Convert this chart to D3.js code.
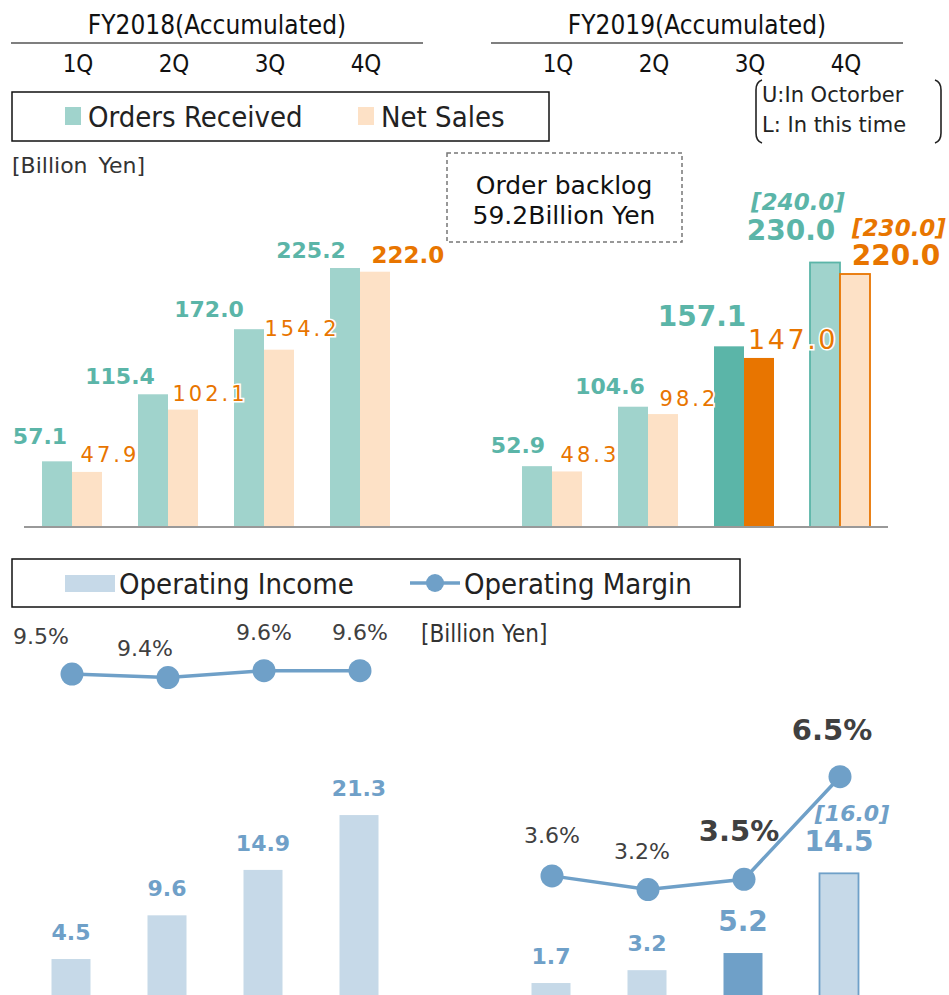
<!DOCTYPE html>
<html>
<head>
<meta charset="utf-8">
<script src="https://cdn.jsdelivr.net/npm/d3@7"></script>
<style>
  body { margin: 0; background: #fff; }
  svg text { font-family: "DejaVu Sans", Verdana, sans-serif; }
  svg text.cond { font-family: "DejaVu Sans Condensed", "DejaVu Sans", sans-serif; font-stretch: condensed; }
</style>
</head>
<body>
<script>
// ---- data ----
const fiscalYears = ["FY2018(Accumulated)", "FY2019(Accumulated)"];
const quarters = ["1Q", "2Q", "3Q", "4Q"];
const periods = ["FY2018 1Q", "FY2018 2Q", "FY2018 3Q", "FY2018 4Q",
                 "FY2019 1Q", "FY2019 2Q", "FY2019 3Q", "FY2019 4Q"];
// actual result, result of this time (highlighted), full year plan (outlined)
const periodType = ["actual", "actual", "actual", "actual", "actual", "actual", "current", "forecast"];
const ordersReceived = [57.1, 115.4, 172.0, 225.2, 52.9, 104.6, 157.1, 230.0];
const netSales = [47.9, 102.1, 154.2, 222.0, 48.3, 98.2, 147.0, 220.0];
const ordersPlanOctober = [null, null, null, null, null, null, null, 240.0];
const netSalesPlanOctober = [null, null, null, null, null, null, null, 230.0];
const operatingIncome = [4.5, 9.6, 14.9, 21.3, 1.7, 3.2, 5.2, 14.5];
const operatingIncomePlanOctober = [null, null, null, null, null, null, null, 16.0];
const operatingMargin = [9.5, 9.4, 9.6, 9.6, 3.6, 3.2, 3.5, 6.5];
const orderBacklog = 59.2;

// ---- label nudges (layout only) ----
const ordersLabelNudge = [[-17, -17], [-33, -10], [-40, -12], [-34, -10], [-19, -13], [-23, -13], [-27, -20], [-34, -23]];
const salesLabelNudge = [[23, -10], [27, -9], [23, -14], [33, -9], [23, -9], [26, -8], [34, -9], [41, -9]];
const marginLabelNudge = [[-31, -30], [-23, -22], [0, -31], [0, -31], [0, -33], [-6, -31], [-5, -38], [-8, -37]];

const width = 949, height = 995;
const teal = "#5bb5a8", tealLight = "#a0d3cc";
const orange = "#e87500", peach = "#fde1c6";
const blue = "#6fa0c8", blueLight = "#c6d9e8";

const svg = d3.select("body").append("svg")
    .attr("width", width)
    .attr("height", height);

// one empty slot between the two fiscal years
const slots = periods.slice(0, 4).concat(["spacer"], periods.slice(4));
const x = d3.scaleBand().domain(slots).range([24, 888]).padding(0);
const cx = function(p) { return x(p) + x.bandwidth() / 2; };

const rows = periods.map(function(p, i) {
    return {
        period: p, i: i, type: periodType[i], fy: p.slice(0, 6),
        orders: ordersReceived[i], sales: netSales[i],
        ordersPlan: ordersPlanOctober[i], salesPlan: netSalesPlanOctober[i],
        income: operatingIncome[i], incomePlan: operatingIncomePlanOctober[i],
        margin: operatingMargin[i]
    };
});

/* ------- HEADER ------- */
const header = svg.append("g").attr("class", "header");
fiscalYears.forEach(function(fy, k) {
    const ps = periods.slice(k * 4, k * 4 + 4);
    const x0 = x(ps[0]) - 13, x1 = x(ps[3]) + x.bandwidth() + 15;
    header.append("text")
        .attr("class", "cond")
        .attr("x", (x0 + x1) / 2)
        .attr("y", 34)
        .attr("text-anchor", "middle")
        .style("font-size", "26px")
        .attr("fill", "#111")
        .text(fy);
    header.append("line")
        .attr("x1", x0).attr("x2", x1)
        .attr("y1", 43).attr("y2", 43)
        .attr("stroke", "#7f7f7f")
        .attr("stroke-width", 2);
});
header.selectAll(".quarter")
    .data(periods)
    .enter()
    .append("text")
    .attr("class", "cond quarter")
    .attr("x", function(p) { return cx(p) + 6; })
    .attr("y", 72)
    .attr("text-anchor", "middle")
    .style("font-size", "24px")
    .attr("fill", "#111")
    .text(function(p) { return quarters[periods.indexOf(p) % 4]; });

/* ------- LEGEND 1 ------- */
const legend1 = svg.append("g").attr("class", "legend");
legend1.append("rect")
    .attr("x", 12).attr("y", 92).attr("width", 537).attr("height", 49)
    .attr("fill", "none").attr("stroke", "#111").attr("stroke-width", 1.5);
[["Orders Received", tealLight, 65], ["Net Sales", peach, 358]].forEach(function(d) {
    legend1.append("rect")
        .attr("x", d[2]).attr("y", 107).attr("width", 16).attr("height", 18)
        .attr("fill", d[1]);
    legend1.append("text")
        .attr("class", "cond")
        .attr("x", d[2] + 23).attr("y", 127)
        .style("font-size", "29px")
        .attr("fill", "#222")
        .text(d[0]);
});

// U / L note with brackets
const note = svg.append("g").attr("class", "note");
note.append("path")
    .attr("d", "M762,80 Q756,82 756,90 L756,133 Q756,141 762,143")
    .attr("fill", "none").attr("stroke", "#222").attr("stroke-width", 1.6);
note.append("path")
    .attr("d", "M935,80 Q941,82 941,90 L941,133 Q941,141 935,143")
    .attr("fill", "none").attr("stroke", "#222").attr("stroke-width", 1.6);
["U:In Octorber", "L: In this time"].forEach(function(t, k) {
    note.append("text")
        .attr("x", 762).attr("y", 102 + k * 30)
        .style("font-size", "21px")
        .attr("fill", "#222")
        .text(t);
});

svg.append("text")
    .attr("x", 12).attr("y", 173)
    .style("font-size", "22px")
    .style("word-spacing", "4px")
    .attr("fill", "#333")
    .text("[Billion Yen]");

// order backlog box
const backlog = svg.append("g").attr("class", "backlog");
backlog.append("rect")
    .attr("x", 447).attr("y", 153).attr("width", 235).attr("height", 89)
    .attr("fill", "none").attr("stroke", "#777").attr("stroke-width", 1.5)
    .attr("stroke-dasharray", "4,3");
backlog.append("text")
    .attr("x", 564).attr("y", 194).attr("text-anchor", "middle")
    .style("font-size", "25px").attr("fill", "#111")
    .text("Order backlog");
backlog.append("text")
    .attr("x", 564).attr("y", 224).attr("text-anchor", "middle")
    .style("font-size", "25px").attr("fill", "#111")
    .text(orderBacklog.toFixed(1) + "Billion Yen");

/* ------- ORDERS / NET SALES BARS ------- */
const yTop = d3.scaleLinear().domain([0, 250]).range([527, 527 - 250 * 1.15]);
const barW = 30;

const topChart = svg.append("g").attr("class", "top-chart");

topChart.selectAll(".orders")
    .data(rows)
    .enter()
    .append("rect")
    .attr("class", "orders")
    .attr("x", function(d) { return cx(d.period) - barW; })
    .attr("y", function(d) { return yTop(d.orders); })
    .attr("width", barW)
    .attr("height", function(d) { return yTop(0) - yTop(d.orders); })
    .attr("fill", function(d) { return d.type === "current" ? teal : tealLight; })
    .attr("stroke", function(d) { return d.type === "forecast" ? teal : "none"; })
    .attr("stroke-width", 1.8);

topChart.selectAll(".sales")
    .data(rows)
    .enter()
    .append("rect")
    .attr("class", "sales")
    .attr("x", function(d) { return cx(d.period); })
    .attr("y", function(d) { return yTop(d.sales); })
    .attr("width", barW)
    .attr("height", function(d) { return yTop(0) - yTop(d.sales); })
    .attr("fill", function(d) { return d.type === "current" ? orange : peach; })
    .attr("stroke", function(d) { return d.type === "forecast" ? orange : "none"; })
    .attr("stroke-width", 1.8);

topChart.append("line")
    .attr("x1", x.range()[0]).attr("x2", x.range()[1])
    .attr("y1", yTop(0)).attr("y2", yTop(0))
    .attr("stroke", "#999").attr("stroke-width", 2);

topChart.selectAll(".orders-label")
    .data(rows)
    .enter()
    .append("text")
    .attr("class", "orders-label")
    .attr("x", function(d) { return cx(d.period) - barW / 2 + ordersLabelNudge[d.i][0]; })
    .attr("y", function(d) { return yTop(d.orders) + ordersLabelNudge[d.i][1]; })
    .attr("text-anchor", "middle")
    .style("font-size", function(d) { return d.type === "actual" ? "22px" : "28px"; })
    .style("font-weight", "bold")
    .attr("fill", teal)
    .text(function(d) { return d.orders.toFixed(1); });

topChart.selectAll(".sales-label")
    .data(rows)
    .enter()
    .append("text")
    .attr("class", "sales-label")
    .attr("x", function(d) { return cx(d.period) + barW / 2 + salesLabelNudge[d.i][0]; })
    .attr("y", function(d) { return yTop(d.sales) + salesLabelNudge[d.i][1]; })
    .attr("text-anchor", "middle")
    .style("font-size", function(d) {
        if (d.type === "forecast") return "28px";
        if (d.type === "current") return "27px";
        return d.i === 3 ? "23px" : "21px";
    })
    .style("font-weight", function(d) { return (d.type === "forecast" || d.i === 3) ? "bold" : "normal"; })
    .style("letter-spacing", function(d) {
        if (d.type === "forecast" || d.i === 3) return "0px";
        return d.type === "current" ? "2.5px" : "3px";
    })
    .attr("fill", orange)
    .attr("stroke", "#fff")
    .attr("stroke-width", 3)
    .attr("paint-order", "stroke")
    .text(function(d) { return d.sales.toFixed(1); });

// October plan labels
topChart.selectAll(".orders-plan")
    .data(rows.filter(function(d) { return d.ordersPlan != null; }))
    .enter()
    .append("text")
    .attr("x", function(d) { return cx(d.period) - barW / 2 - 27; })
    .attr("y", function(d) { return yTop(d.orders) - 53; })
    .attr("text-anchor", "middle")
    .style("font-size", "23px").style("font-weight", "bold").style("font-style", "italic")
    .attr("fill", teal)
    .text(function(d) { return "[" + d.ordersPlan.toFixed(1) + "]"; });

topChart.selectAll(".sales-plan")
    .data(rows.filter(function(d) { return d.salesPlan != null; }))
    .enter()
    .append("text")
    .attr("x", function(d) { return cx(d.period) + barW / 2 + 44; })
    .attr("y", function(d) { return yTop(d.sales) - 38; })
    .attr("text-anchor", "middle")
    .style("font-size", "23px").style("font-weight", "bold").style("font-style", "italic")
    .attr("fill", orange)
    .text(function(d) { return "[" + d.salesPlan.toFixed(1) + "]"; });

/* ------- LEGEND 2 ------- */
const legend2 = svg.append("g").attr("class", "legend");
legend2.append("rect")
    .attr("x", 12).attr("y", 559).attr("width", 728).attr("height", 48)
    .attr("fill", "none").attr("stroke", "#111").attr("stroke-width", 1.5);
legend2.append("rect")
    .attr("x", 65).attr("y", 575).attr("width", 50).attr("height", 17)
    .attr("fill", blueLight);
legend2.append("text")
    .attr("class", "cond")
    .attr("x", 119).attr("y", 594)
    .style("font-size", "29px").attr("fill", "#222")
    .text("Operating Income");
legend2.append("line")
    .attr("x1", 410).attr("x2", 460).attr("y1", 583).attr("y2", 583)
    .attr("stroke", blue).attr("stroke-width", 3.5);
legend2.append("circle")
    .attr("cx", 435).attr("cy", 583).attr("r", 9)
    .attr("fill", blue);
legend2.append("text")
    .attr("class", "cond")
    .attr("x", 464).attr("y", 594)
    .style("font-size", "29px").attr("fill", "#222")
    .text("Operating Margin");

svg.append("text")
    .attr("class", "cond")
    .attr("x", 421).attr("y", 642)
    .style("font-size", "24px").attr("fill", "#333")
    .text("[Billion Yen]");

/* ------- OPERATING INCOME BARS ------- */
const yInc = d3.scaleLinear().domain([0, 10]).range([997.6, 997.6 - 85.7]);
const incW = 39;
const bottomChart = svg.append("g").attr("class", "bottom-chart");

bottomChart.selectAll(".income")
    .data(rows)
    .enter()
    .append("rect")
    .attr("class", "income")
    .attr("x", function(d) { return cx(d.period) - 1 - incW / 2; })
    .attr("y", function(d) { return yInc(d.income); })
    .attr("width", incW)
    .attr("height", function(d) { return yInc(0) - yInc(d.income); })
    .attr("fill", function(d) { return d.type === "current" ? blue : blueLight; })
    .attr("stroke", function(d) { return d.type === "forecast" ? blue : "none"; })
    .attr("stroke-width", 1.8);

bottomChart.selectAll(".income-label")
    .data(rows)
    .enter()
    .append("text")
    .attr("x", function(d) { return cx(d.period) - 1; })
    .attr("y", function(d) { return yInc(d.income) - (d.type === "actual" ? 19 : 22); })
    .attr("text-anchor", "middle")
    .style("font-size", function(d) { return d.type === "actual" ? "22px" : "28px"; })
    .style("font-weight", "bold")
    .attr("fill", blue)
    .text(function(d) { return d.income.toFixed(1); });

bottomChart.selectAll(".income-plan")
    .data(rows.filter(function(d) { return d.incomePlan != null; }))
    .enter()
    .append("text")
    .attr("x", function(d) { return cx(d.period) + 12; })
    .attr("y", function(d) { return yInc(d.income) - 52; })
    .attr("text-anchor", "middle")
    .style("font-size", "22px").style("font-weight", "bold").style("font-style", "italic")
    .attr("fill", blue)
    .text(function(d) { return "[" + d.incomePlan.toFixed(1) + "]"; });

/* ------- OPERATING MARGIN LINE ------- */
const yMar = d3.scaleLinear().domain([0, 10]).range([999, 657]);
const line = d3.line()
    .x(function(d) { return cx(d.period); })
    .y(function(d) { return yMar(d.margin); });

d3.groups(rows, function(d) { return d.fy; }).forEach(function(g) {
    bottomChart.append("path")
        .attr("d", line(g[1]))
        .attr("fill", "none")
        .attr("stroke", blue)
        .attr("stroke-width", 3.5);
});

bottomChart.selectAll(".margin-dot")
    .data(rows)
    .enter()
    .append("circle")
    .attr("cx", function(d) { return cx(d.period); })
    .attr("cy", function(d) { return yMar(d.margin); })
    .attr("r", 11.5)
    .attr("fill", blue);

bottomChart.selectAll(".margin-label")
    .data(rows)
    .enter()
    .append("text")
    .attr("x", function(d) { return cx(d.period) + marginLabelNudge[d.i][0]; })
    .attr("y", function(d) { return yMar(d.margin) + marginLabelNudge[d.i][1]; })
    .attr("text-anchor", "middle")
    .style("font-size", function(d) { return d.type === "actual" ? "22px" : "29px"; })
    .style("font-weight", function(d) { return d.type === "actual" ? "normal" : "bold"; })
    .attr("fill", "#404040")
    .text(function(d) { return d.margin.toFixed(1) + "%"; });
</script>
</body>
</html>
